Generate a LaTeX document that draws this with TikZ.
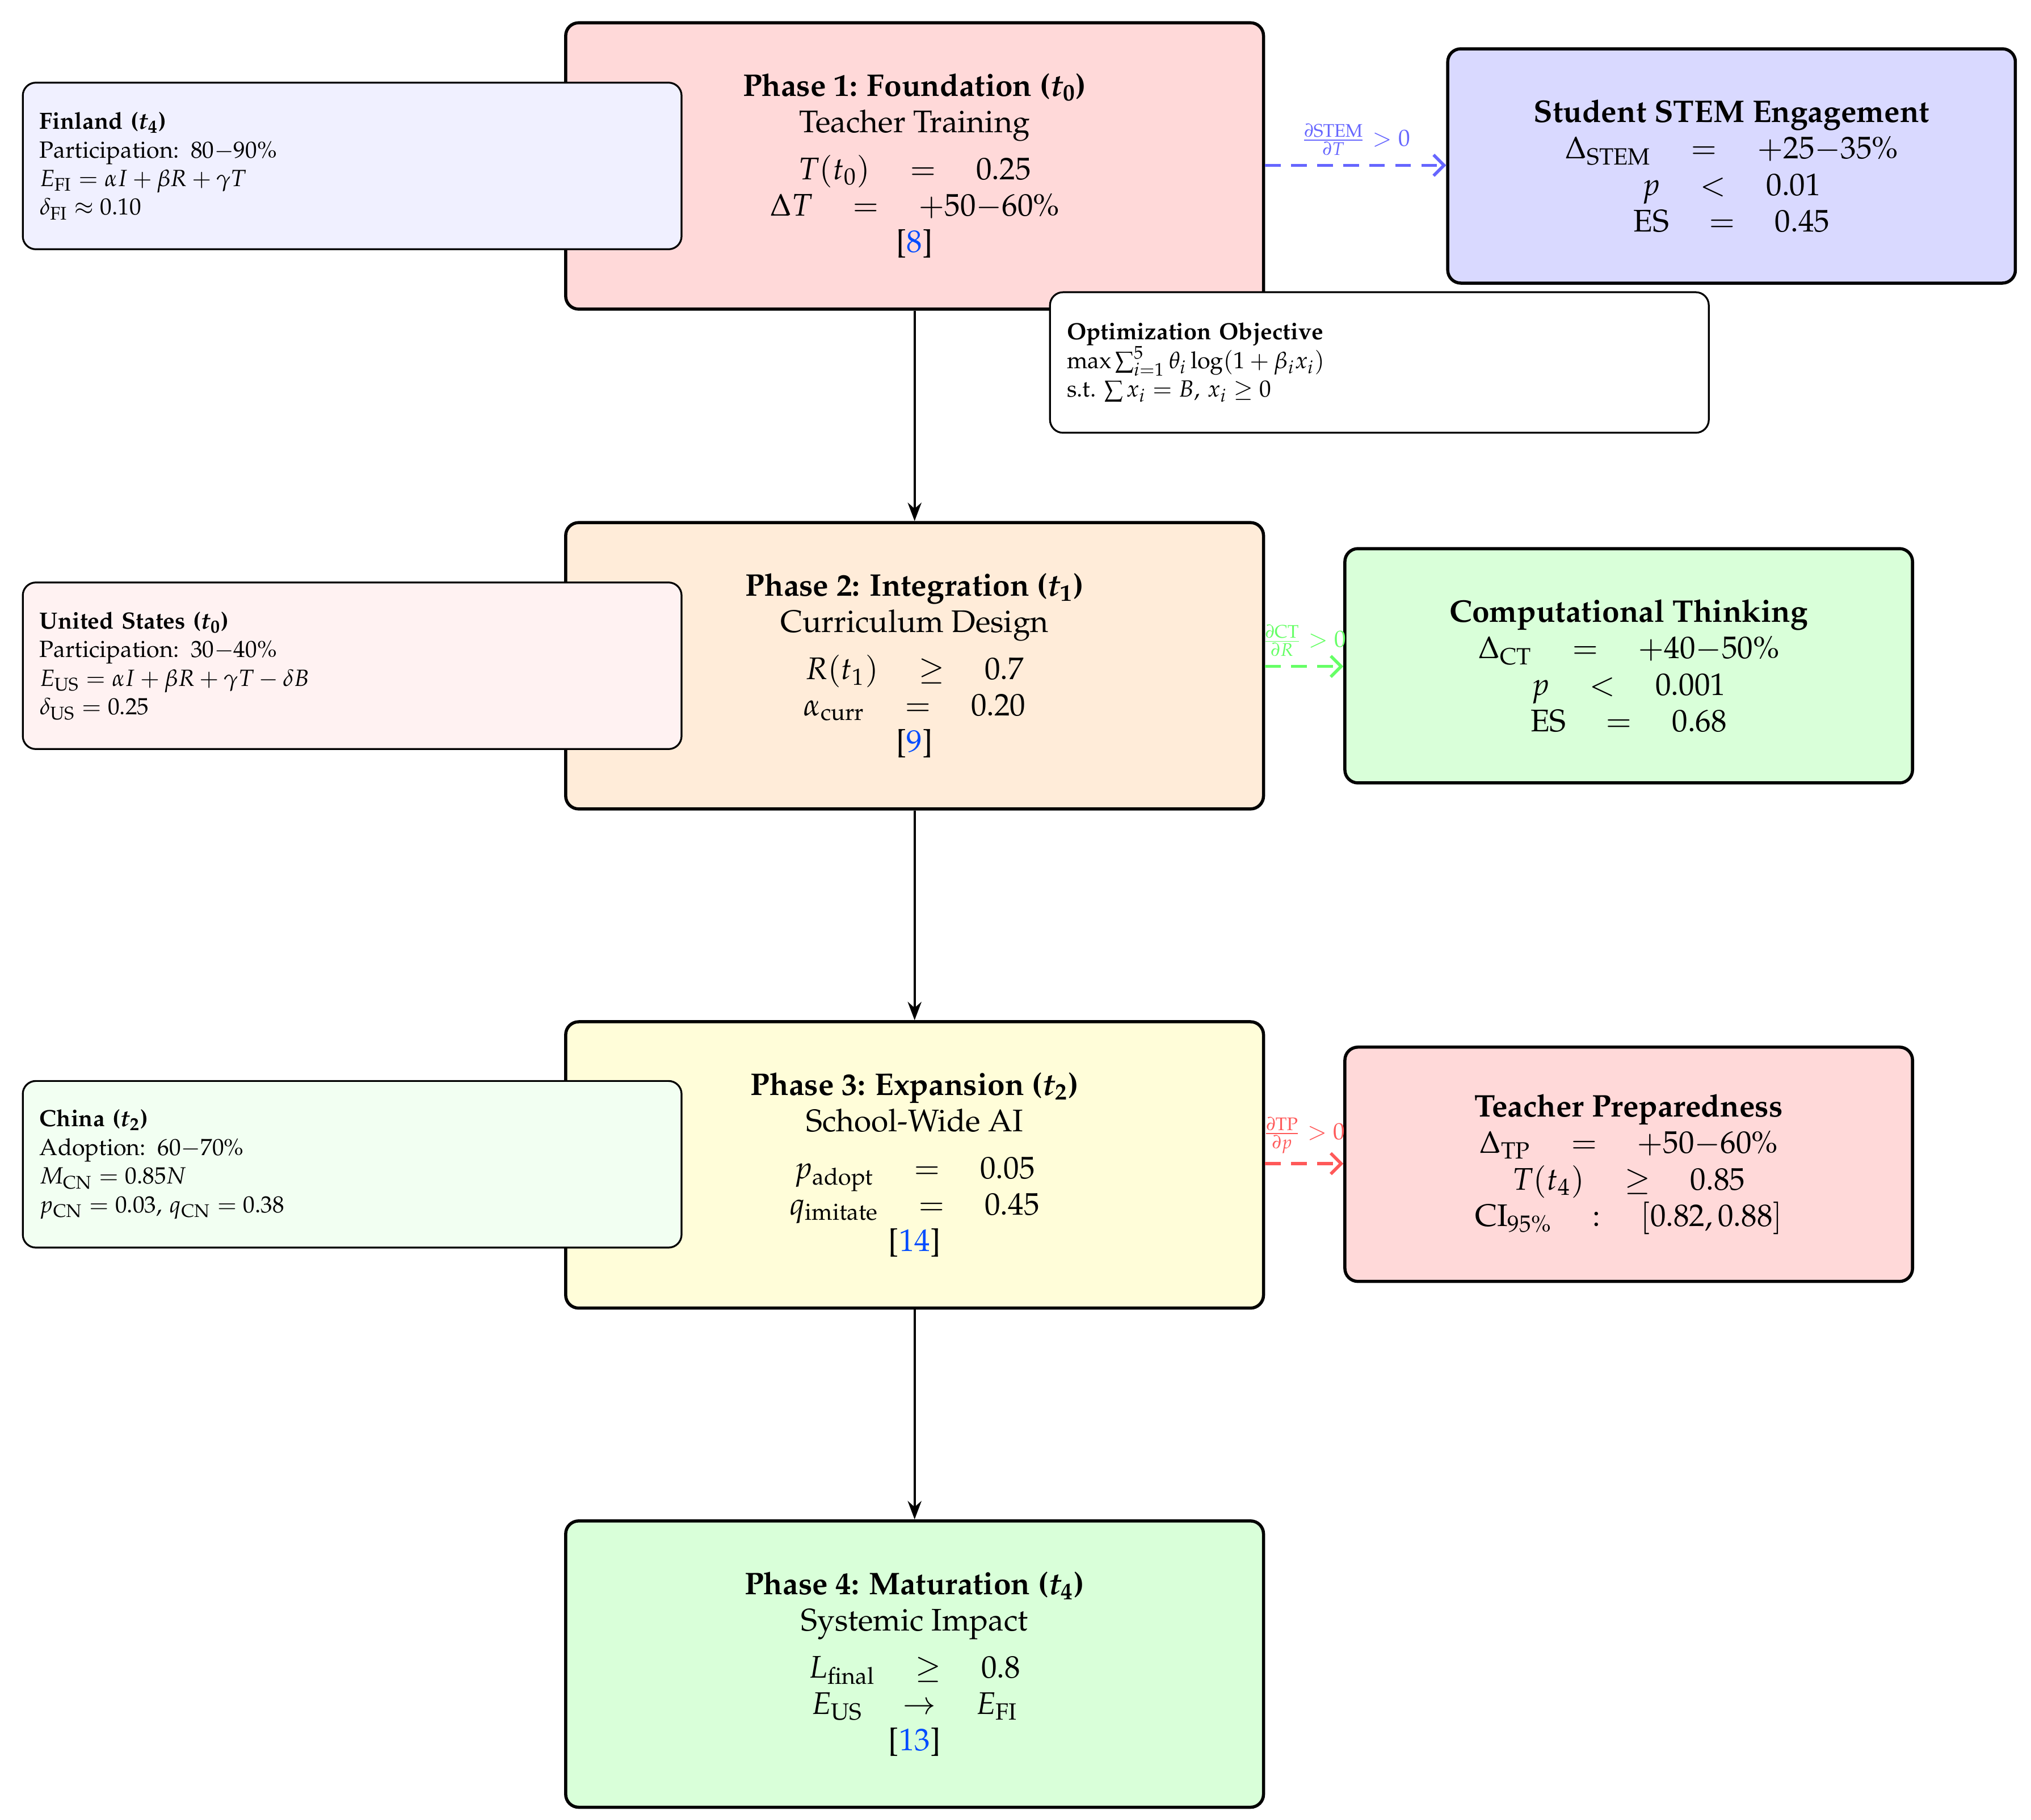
\documentclass[tikz,border=0pt]{standalone}
\usepackage{amsmath}
\usepackage[T1]{fontenc}
\usepackage{mathpazo}
\usepackage{bm}
\usetikzlibrary{arrows.meta}
\begin{document}
\begin{tikzpicture}[x=0.5pt,y=-0.5pt,
 phase/.style={draw,line width=1.2pt,rounded corners=5pt,minimum width=268pt,minimum height=110pt,align=center,font=\large,inner sep=2pt},
 res/.style={draw,line width=1.2pt,rounded corners=5pt,minimum width=218pt,minimum height=90pt,align=center,font=\large},
 side/.style={draw,line width=0.7pt,rounded corners=5pt,minimum width=253pt,minimum height=64pt,align=left,text width=240pt,font=\small},
 flow/.style={-{Stealth},line width=0.9pt},
 dep/.style={-{Straight Barb[length=4pt,width=8pt]},dashed,line width=1.2pt,dash pattern=on 6pt off 4pt}]
\useasboundingbox (0,0) rectangle (1560,1398);
\node[phase,fill=red!15] (p1) at (702.5,127.5) {\textbf{Phase 1: Foundation ($\bm{t_0}$)}\\Teacher Training\\[4pt]$T(t_0)\quad=\quad0.25$\\$\Delta T\quad=\quad+50{-}60\%$\\{[}\textcolor{blue!70!cyan}{8}{]}};
\node[phase,fill=orange!15] (p2) at (702.5,511.5) {\textbf{Phase 2: Integration ($\bm{t_1}$)}\\Curriculum Design\\[4pt]$R(t_1)\quad\geq\quad0.7$\\$\alpha_{\mathrm{curr}}\quad=\quad0.20$\\{[}\textcolor{blue!70!cyan}{9}{]}};
\node[phase,fill=yellow!15] (p3) at (702.5,895) {\textbf{Phase 3: Expansion ($\bm{t_2}$)}\\School-Wide AI\\[4pt]$p_{\mathrm{adopt}}\quad=\quad0.05$\\$q_{\mathrm{imitate}}\quad=\quad0.45$\\{[}\textcolor{blue!70!cyan}{14}{]}};
\node[phase,fill=green!15] (p4) at (702.5,1278.5) {\textbf{Phase 4: Maturation ($\bm{t_4}$)}\\Systemic Impact\\[4pt]$L_{\mathrm{final}}\quad\geq\quad0.8$\\$E_{\mathrm{US}}\quad\to\quad E_{\mathrm{FI}}$\\{[}\textcolor{blue!70!cyan}{13}{]}};
\draw[flow] (p1) -- (p2);
\draw[flow] (p2) -- (p3);
\draw[flow] (p3) -- (p4);
\node[res,fill=blue!15] (stem) at (1330,127.5) {\textbf{Student STEM Engagement}\\$\Delta_{\mathrm{STEM}}\quad=\quad+25{-}35\%$\\$p\quad<\quad0.01$\\$\mathrm{ES}\quad=\quad0.45$};
\node[res,fill=green!15] (ct) at (1251,511.5) {\textbf{Computational Thinking}\\$\Delta_{\mathrm{CT}}\quad=\quad+40{-}50\%$\\$p\quad<\quad0.001$\\$\mathrm{ES}\quad=\quad0.68$};
\node[res,fill=red!15] (tp) at (1251,894.5) {\textbf{Teacher Preparedness}\\$\Delta_{\mathrm{TP}}\quad=\quad+50{-}60\%$\\$T(t_4)\quad\geq\quad0.85$\\$\mathrm{CI}_{95\%}\quad:\quad[0.82,0.88]$};
\draw[dep,blue!60] (p1.east |- 0,127) -- node[above,font=\small]{$\frac{\partial\mathrm{STEM}}{\partial T}>0$} (stem.west |- 0,127);
\draw[dep,green!60] (p2.east |- 0,512) -- node[above,font=\small]{$\frac{\partial\mathrm{CT}}{\partial R}>0$} (ct.west |- 0,512);
\draw[dep,red!65] (p3.east |- 0,894) -- node[above,font=\small]{$\frac{\partial\mathrm{TP}}{\partial p}>0$} (tp.west |- 0,894);
\node[side,fill=blue!6] (fi) at (270.5,127.5) {\textbf{Finland ($\bm{t_4}$)}\\Participation: 80$-$90\%\\$E_{\mathrm{FI}}=\alpha I+\beta R+\gamma T$\\$\delta_{\mathrm{FI}}\approx0.10$};
\node[side,fill=red!5] (us) at (270.5,511.5) {\textbf{United States ($\bm{t_0}$)}\\Participation: 30$-$40\%\\$E_{\mathrm{US}}=\alpha I+\beta R+\gamma T-\delta B$\\$\delta_{\mathrm{US}}=0.25$};
\node[side,fill=green!5] (cn) at (270.5,894.5) {\textbf{China ($\bm{t_2}$)}\\Adoption: 60$-$70\%\\$M_{\mathrm{CN}}=0.85N$\\$p_{\mathrm{CN}}=0.03$, $q_{\mathrm{CN}}=0.38$};
\node[side,fill=white,minimum height=54pt] (opt) at (1059.5,278.5) {\textbf{Optimization Objective}\\$\max\sum_{i=1}^{5}\theta_i\log(1+\beta_i x_i)$\\s.t.\ $\sum x_i=B$, $x_i\geq0$};
\end{tikzpicture}
\end{document}
